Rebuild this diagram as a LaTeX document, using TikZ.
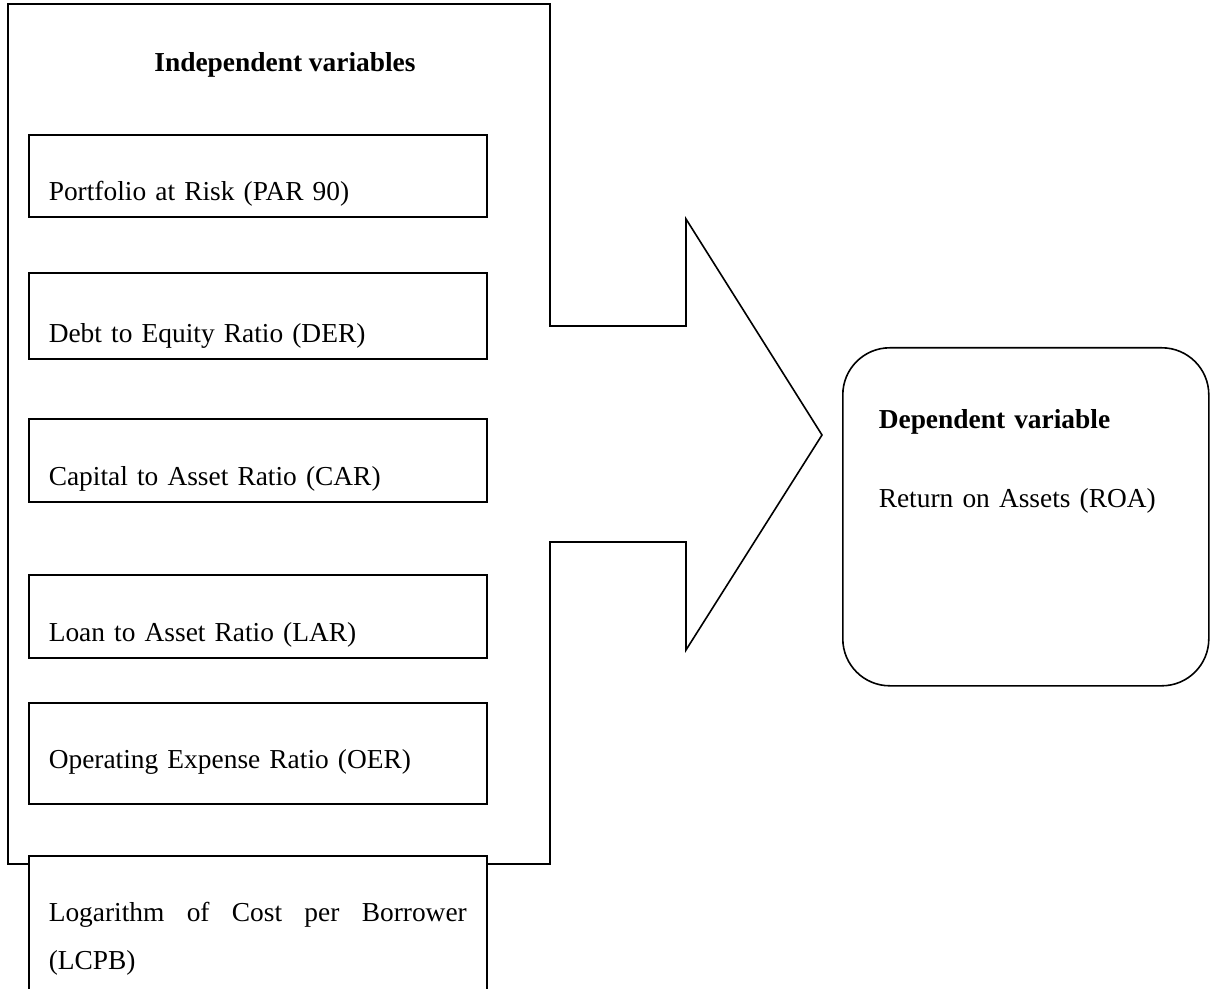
\documentclass[tikz,border=0pt]{standalone}
\usepackage{fontspec}
\setmainfont{Liberation Serif}
\usepackage{tikz}
\usetikzlibrary{positioning}

\begin{document}
\begin{tikzpicture}[
        x=0.5pt, y=-0.5pt,
        every node/.style={font=\fontsize{13.7pt}{24pt}\selectfont},
        headline/.style={font=\fontsize{13.7pt}{24pt}\selectfont\bfseries},
        varbox/.style={draw, thick, fill=white, anchor=north west, text width=209pt,
            inner xsep=10pt, inner ysep=0pt, text depth=8pt}
    ]
    \useasboundingbox (0,0) rectangle (1211,989);
    \clip (0,0) rectangle (1211,989);

    \draw[thick] (8,4) -- (550,4) -- (550,326) -- (686,326) -- (686,219) -- (822,435)
        -- (686,650) -- (686,542) -- (550,542) -- (550,864) -- (8,864) -- cycle;

    \node (indep) [headline, anchor=base] at (285,72) {Independent variables};

    \node (par) [varbox, text height=33pt] at (28,134) {Portfolio at Risk (PAR 90)};
    \node (der) [varbox, text height=35pt] at (28,272) {Debt to Equity Ratio (DER)};
    \node (car) [varbox, text height=33.5pt] at (28,418) {Capital to Asset Ratio (CAR)};
    \node (lar) [varbox, text height=33.5pt] at (28,574) {Loan to Asset Ratio (LAR)};
    \node (oer) [varbox, text height=33pt, text depth=17.5pt] at (28,702) {Operating Expense Ratio (OER)};
    \node (lcpb) [varbox, text height=33pt, text depth=80pt, align=justify] at (28,855)
        {Logarithm of Cost per Borrower\linebreak (LCPB)};

    \node (dep) [draw, thick, rounded corners=23.5pt, anchor=north west, text width=147pt,
        inner xsep=18pt, inner ysep=0pt, text height=40.5pt, text depth=128.5pt, align=left]
        at (842,347) {\textbf{Dependent variable}\\[15.5pt] Return on Assets (ROA)};
\end{tikzpicture}
\end{document}
